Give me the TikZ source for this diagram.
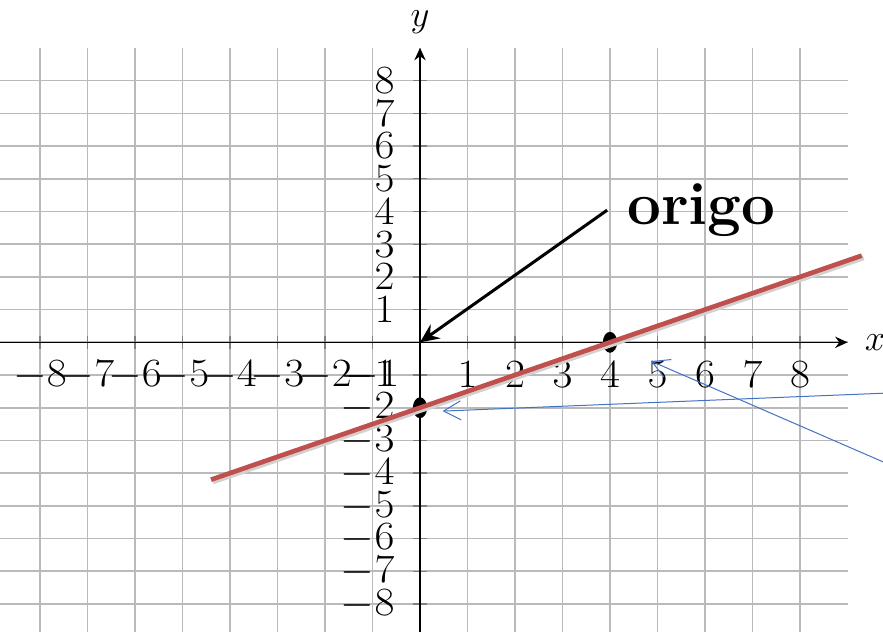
\RequirePackage{fix-cm}
\documentclass[tikz,border=0pt]{standalone}
\usepackage{xcolor}
\usepackage{tikz}
\usetikzlibrary{arrows.meta,shapes.geometric}
\definecolor{linered}{RGB}{192, 80, 77}
\definecolor{noteblue}{RGB}{68, 114, 196}

\begin{document}
\begin{tikzpicture}[
    x=1cm, y=0.6886cm,
    gridline/.style={line width=1pt, black!27},
    axis/.style={-{Stealth[length=2.6mm, width=2.4mm]}, line width=0.8pt},
    tick/.style={line width=0.8pt, black!50},
    ticklabel/.style={inner sep=0pt, xscale=1.08, transform shape, font=\fontsize{24}{24}\selectfont},
    axislabel/.style={inner sep=0pt, font=\fontsize{22}{22}\selectfont},
    dot/.style={ellipse, fill=black, inner sep=0pt, minimum width=0.3cm, minimum height=0.44cm},
    pointer/.style={-{Stealth[length=4mm, width=3.6mm, inset=1.4mm]}, line width=1.8pt},
    note/.style={-{Straight Barb[length=3.6mm, width=4mm]}, noteblue, line width=0.6pt}
]
    \useasboundingbox (-8.842,-8.826) rectangle (9.747,10.465);
    \clip (-8.842,-8.826) rectangle (9.747,10.465);

    % Grid and ticks
    \foreach \k in {-8,...,8} {
        \draw[gridline] (\k,-9) -- (\k,9);
        \draw[gridline] (-9,\k) -- (9,\k);
    }
    \foreach \k in {-8,...,-1,1,2,...,8} {
        \draw[tick] (\k,0) ++(0,-4pt) -- ++(0,8pt);
        \draw[tick] (0,\k) ++(-4pt,0) -- ++(8pt,0);
    }

    % Axes
    \coordinate (O) at (0,0);
    \draw[axis] (-8.99,0) -- (9,0);
    \draw[axis] (0,-8.99) -- (0,9);
    \node[axislabel] (xlab) at (9.58,0) {$x$};
    \node[axislabel] (ylab) at (0,9.79) {$y$};

    % Tick labels
    \foreach \k in {-8,...,-1,1,2,...,8} {
        \node[ticklabel] (xt\k) at (\k,-1) {$\k$};
        \node[ticklabel, anchor=east] (yt\k) at (-0.53,\k) {$\k$};
    }

    % Points
    \node[dot] (yint) at (0,-2) {};
    \node[dot] (xint) at (4,0) {};

    % Line
    \draw[line width=2.8pt, black!18] (-4.36,-4.27) -- (9.34,2.58);
    \draw[line width=2.8pt, linered] (-4.4,-4.2) -- (9.3,2.65);

    % origo
    \node[font=\fontsize{36}{36}\selectfont\bfseries, anchor=west, inner xsep=0.42cm, inner ysep=0pt] (origo) at (3.94,4.04) {origo};
    \draw[pointer] (origo.west) -- (O);

    % Notes
    \coordinate (note1) at (10.2,-1.53);
    \coordinate (note2) at (10.2,-3.94);
    \draw[note, shorten >=0.33cm] (note1) -- (yint.-30);
    \draw[note, shorten >=0.78cm] (note2) -- (xint.-30);
\end{tikzpicture}
\end{document}
